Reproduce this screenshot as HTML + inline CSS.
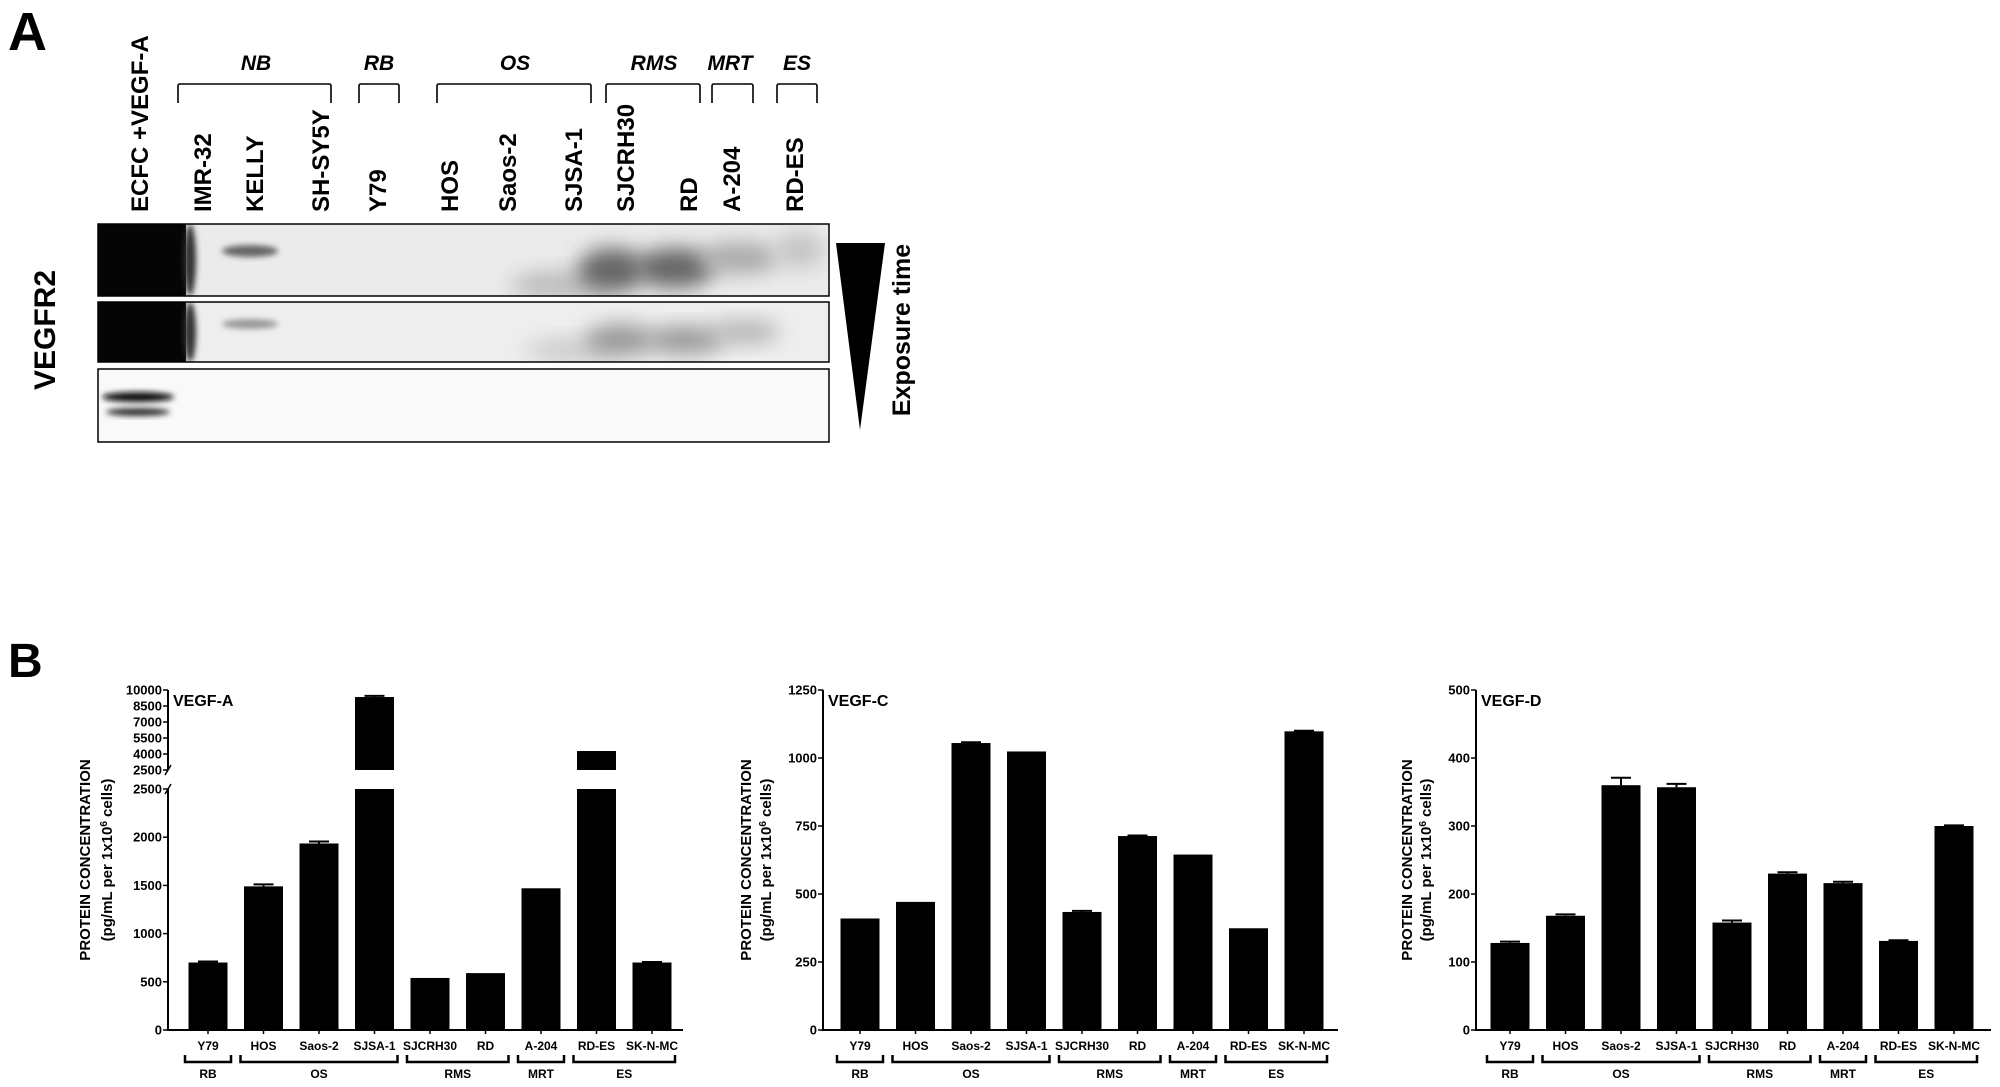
<!DOCTYPE html>
<html><head><meta charset="utf-8">
<style>
html,body{margin:0;padding:0;background:#fff;}
body{width:2000px;height:1087px;overflow:hidden;position:relative;font-family:"Liberation Sans",Arial,sans-serif;}
svg{position:absolute;left:0;top:0;}
text{font-family:"Liberation Sans",Arial,sans-serif;font-weight:bold;fill:#000;}
</style></head>
<body>
<svg id="fig" width="2000" height="1087" viewBox="0 0 2000 1087" xmlns="http://www.w3.org/2000/svg">
<defs>
<filter id="blur6" x="-50%" y="-50%" width="200%" height="200%"><feGaussianBlur stdDeviation="10"/></filter>
<filter id="blur3" x="-50%" y="-50%" width="200%" height="200%"><feGaussianBlur stdDeviation="3"/></filter>
<clipPath id="c1"><rect x="98" y="224" width="731" height="72"/></clipPath>
<clipPath id="c2"><rect x="98" y="302" width="731" height="60"/></clipPath>
<clipPath id="c3"><rect x="98" y="369" width="731" height="73"/></clipPath>
</defs>

<!-- Panel A -->
<text x="8" y="50" font-size="54">A</text>
<g font-style="italic" font-size="21" text-anchor="middle">
<text x="256" y="70">NB</text>
<text x="379" y="70">RB</text>
<text x="515" y="70">OS</text>
<text x="654" y="70">RMS</text>
<text x="730" y="70">MRT</text>
<text x="797" y="70">ES</text>
</g>
<g fill="none" stroke="#000" stroke-width="1.6">
<path d="M178,103 V86 Q178,84 180,84 H329 Q331,84 331,86 V103"/>
<path d="M359,103 V86 Q359,84 361,84 H397 Q399,84 399,86 V103"/>
<path d="M437,103 V86 Q437,84 439,84 H589 Q591,84 591,86 V103"/>
<path d="M606,103 V86 Q606,84 608,84 H698 Q700,84 700,86 V103"/>
<path d="M712,103 V86 Q712,84 714,84 H751 Q753,84 753,86 V103"/>
<path d="M777,103 V86 Q777,84 779,84 H815 Q817,84 817,86 V103"/>
</g>
<g font-size="24">
<text transform="translate(148,212) rotate(-90)">ECFC +VEGF-A</text>
<text transform="translate(211,212) rotate(-90)">IMR-32</text>
<text transform="translate(263,212) rotate(-90)">KELLY</text>
<text transform="translate(329,212) rotate(-90)">SH-SY5Y</text>
<text transform="translate(386,212) rotate(-90)">Y79</text>
<text transform="translate(458,212) rotate(-90)">HOS</text>
<text transform="translate(516,212) rotate(-90)">Saos-2</text>
<text transform="translate(582,212) rotate(-90)">SJSA-1</text>
<text transform="translate(634,212) rotate(-90)">SJCRH30</text>
<text transform="translate(697,212) rotate(-90)">RD</text>
<text transform="translate(740,212) rotate(-90)">A-204</text>
<text transform="translate(803,212) rotate(-90)">RD-ES</text>
</g>

<g>
<rect x="98" y="224" width="731" height="72" fill="#ebebeb"/>
<g clip-path="url(#c1)">
<rect x="98" y="224" width="88" height="72" fill="#050505"/>
<ellipse cx="190" cy="260" rx="6" ry="36" fill="#333" filter="url(#blur3)"/>
<ellipse cx="250" cy="251" rx="28" ry="6" fill="#666" filter="url(#blur3)"/>
<ellipse cx="560" cy="285" rx="50" ry="14" fill="#bbb" filter="url(#blur6)"/>
<ellipse cx="612" cy="270" rx="34" ry="22" fill="#666" filter="url(#blur6)"/>
<ellipse cx="675" cy="268" rx="40" ry="20" fill="#666" filter="url(#blur6)"/>
<ellipse cx="740" cy="258" rx="40" ry="16" fill="#aaa" filter="url(#blur6)"/>
<ellipse cx="800" cy="250" rx="25" ry="18" fill="#c4c4c4" filter="url(#blur6)"/>
</g>
<rect x="98" y="224" width="731" height="72" fill="none" stroke="#000" stroke-width="1.5"/>
</g>
<g>
<rect x="98" y="302" width="731" height="60" fill="#eeeeee"/>
<g clip-path="url(#c2)">
<rect x="98" y="302" width="88" height="60" fill="#050505"/>
<ellipse cx="190" cy="332" rx="6" ry="30" fill="#333" filter="url(#blur3)"/>
<ellipse cx="250" cy="324" rx="28" ry="5" fill="#999" filter="url(#blur3)"/>
<ellipse cx="570" cy="350" rx="45" ry="12" fill="#ccc" filter="url(#blur6)"/>
<ellipse cx="620" cy="340" rx="35" ry="16" fill="#999" filter="url(#blur6)"/>
<ellipse cx="685" cy="340" rx="40" ry="14" fill="#999" filter="url(#blur6)"/>
<ellipse cx="745" cy="332" rx="35" ry="12" fill="#b5b5b5" filter="url(#blur6)"/>
</g>
<rect x="98" y="302" width="731" height="60" fill="none" stroke="#000" stroke-width="1.5"/>
</g>
<g>
<rect x="98" y="369" width="731" height="73" fill="#f9f9f9"/>
<g clip-path="url(#c3)">
<ellipse cx="138" cy="397" rx="36" ry="5" fill="#111" filter="url(#blur3)"/>
<ellipse cx="138" cy="412" rx="32" ry="4" fill="#333" filter="url(#blur3)"/>
</g>
<rect x="98" y="369" width="731" height="73" fill="none" stroke="#000" stroke-width="1.5"/>
</g>
<text transform="translate(55,330) rotate(-90)" font-size="30" text-anchor="middle">VEGFR2</text>
<polygon points="836,243 885,243 860,430" fill="#000"/>
<text transform="translate(910,330) rotate(-90)" font-size="25" text-anchor="middle">Exposure time</text>

<text x="8" y="677" font-size="48">B</text>
<g id="charts"></g>
</svg>

<script>
// ---- data ----
var categories = ["Y79","HOS","Saos-2","SJSA-1","SJCRH30","RD","A-204","RD-ES","SK-N-MC"];
var groupNames = ["RB","OS","RMS","MRT","ES"];
var groupStart = [0,1,4,6,7];
var groupEnd = [0,3,5,6,8];
var vegfAValues = [700,1490,1935,9340,540,590,1470,4280,700];
var vegfAErrors = [10,20,20,110,0,0,0,0,5];
var vegfATicksLow = [0,500,1000,1500,2000,2500];
var vegfATicksHigh = [2500,4000,5500,7000,8500,10000];
var vegfCValues = [410,471,1055,1024,434,713,645,374,1098];
var vegfCErrors = [0,0,3,0,4,2,0,0,2];
var vegfCTicks = [0,250,500,750,1000,1250];
var vegfDValues = [128,168,360,357,158,230,216,131,300];
var vegfDErrors = [2,2,11,5,3,2,2,1,1];
var vegfDTicks = [0,100,200,300,400,500];

var NS = "http://www.w3.org/2000/svg";
var root = document.getElementById("charts");
function mk(tag, attrs, parent) {
  var e = document.createElementNS(NS, tag);
  for (var k in attrs) e.setAttribute(k, attrs[k]);
  (parent || root).appendChild(e);
  return e;
}

function drawChart(opt) {
  var g = mk("g", {});
  
  
  var ax = opt.axisX, zeroY = 1030, topY = 690, axEnd = ax + 515, pitch = 55.5, bw = 39;
  var yScale = opt.yScale;
  function cx(i) { return ax + opt.off + i * pitch; }

  if (opt.broken) {
    var l1 = mk("line", {x1: ax, y1: zeroY, x2: ax, y2: yScale(2500, 'low'), stroke: "#000", "stroke-width": 2}, g);
    
    
    var l2 = mk("line", {x1: ax, y1: yScale(2500, 'high'), x2: ax, y2: topY, stroke: "#000", "stroke-width": 2}, g);
    
    
    mk("line", {x1: ax - 3, y1: yScale(2500, 'low') + 5, x2: ax + 3, y2: yScale(2500, 'low') - 5, stroke: "#000", "stroke-width": 1.5}, g);
    mk("line", {x1: ax - 3, y1: yScale(2500, 'high') + 5, x2: ax + 3, y2: yScale(2500, 'high') - 5, stroke: "#000", "stroke-width": 1.5}, g);
  } else {
    var l = mk("line", {x1: ax, y1: zeroY, x2: ax, y2: topY, stroke: "#000", "stroke-width": 2}, g);
    
    
  }
  var xl = mk("line", {x1: ax - 1, y1: zeroY, x2: axEnd, y2: zeroY, stroke: "#000", "stroke-width": 2}, g);
  
  

  opt.ticks.forEach(function (t) {
    var y = yScale(t.v, t.seg);
    mk("line", {x1: ax - 5, y1: y, x2: ax, y2: y, stroke: "#000", "stroke-width": 1.5}, g);
    var tx = mk("text", {x: ax - 6, y: y + 4.5, "font-size": 13, "text-anchor": "end"}, g);
    tx.textContent = t.v;
    
    
  });

  opt.values.forEach(function (v, i) {
    var x = cx(i) - bw / 2;
    if (opt.broken && v > 2500) {
      var b1 = mk("rect", {x: x, y: yScale(2500, 'low'), width: bw, height: zeroY - yScale(2500, 'low'), fill: "#000"}, g);
      
      
      var yt = yScale(v, 'high');
      var b2 = mk("rect", {x: x, y: yt, width: bw, height: yScale(2500, 'high') - yt, fill: "#000"}, g);
      
      
    } else {
      var yv = yScale(v, 'low');
      var b = mk("rect", {x: x, y: yv, width: bw, height: zeroY - yv, fill: "#000"}, g);
      
      
    }
    var e = opt.errors[i];
    if (e > 0) {
      var seg = (opt.broken && v > 2500) ? 'high' : 'low';
      var y0 = yScale(v, seg), y1 = yScale(v + e, seg);
      var ep = mk("path", {d: "M" + cx(i) + "," + y0 + " V" + y1 + " M" + (cx(i) - 10) + "," + y1 + " H" + (cx(i) + 10), stroke: "#000", "stroke-width": 2, fill: "none"}, g);
      
      
    }
    mk("line", {x1: cx(i), y1: zeroY, x2: cx(i), y2: zeroY + 4, stroke: "#000", "stroke-width": 1.5}, g);
    var lt = mk("text", {x: cx(i), y: 1050, "font-size": 12, "text-anchor": "middle"}, g);
    lt.textContent = categories[i];
    
    
  });

  groupNames.forEach(function (gn, k) {
    var x0 = cx(groupStart[k]) - 23, x1 = cx(groupEnd[k]) + 23;
    var br = mk("path", {d: "M" + x0 + ",1055 V1062 H" + x1 + " V1055", stroke: "#000", "stroke-width": 2.5, fill: "none"}, g);
    
    
    var gt = mk("text", {x: (x0 + x1) / 2, y: 1078, "font-size": 12, "text-anchor": "middle"}, g);
    gt.textContent = gn;
    
    
  });

  var tt = mk("text", {x: ax + 5, y: 706, "font-size": 16}, g);
  tt.textContent = opt.title;
  
  

  var yt1 = mk("text", {transform: "translate(" + (ax + opt.yt1) + ",860) rotate(-90)", "font-size": 15, "text-anchor": "middle"}, g);
  yt1.textContent = "PROTEIN CONCENTRATION";
  
  
  var yt2 = mk("text", {transform: "translate(" + (ax + opt.yt2) + ",860) rotate(-90)", "font-size": 15, "text-anchor": "middle"}, g);
  yt2.innerHTML = '(pg/mL per 1x10<tspan dy="-5" font-size="10">6</tspan><tspan dy="5"> cells)</tspan>';
  
  
}

function linScale(max) { return function (v) { return 1030 - v / max * 340; }; }

var aScale = function (v, seg) {
  if (seg === 'high') return 770 - (v - 2500) / 7500 * 80;
  return 1030 - v / 2500 * 241;
};
drawChart({
  name: "chart-vegf-a", title: "VEGF-A", axisX: 168, off: 40, yt1: -78, yt2: -56, broken: true,
  values: vegfAValues, errors: vegfAErrors, yScale: aScale,
  ticks: vegfATicksLow.map(function (v) { return {v: v, seg: 'low'}; }).concat(vegfATicksHigh.map(function (v) { return {v: v, seg: 'high'}; }))
});
var cS = linScale(1250);
drawChart({
  name: "chart-vegf-c", title: "VEGF-C", axisX: 823, off: 37, yt1: -72, yt2: -52,
  values: vegfCValues, errors: vegfCErrors, yScale: function (v) { return cS(v); },
  ticks: vegfCTicks.map(function (v) { return {v: v, seg: 'low'}; })
});
var dS = linScale(500);
drawChart({
  name: "chart-vegf-d", title: "VEGF-D", axisX: 1476, off: 34, yt1: -64, yt2: -45,
  values: vegfDValues, errors: vegfDErrors, yScale: function (v) { return dS(v); },
  ticks: vegfDTicks.map(function (v) { return {v: v, seg: 'low'}; })
});
</script>
</body></html>
